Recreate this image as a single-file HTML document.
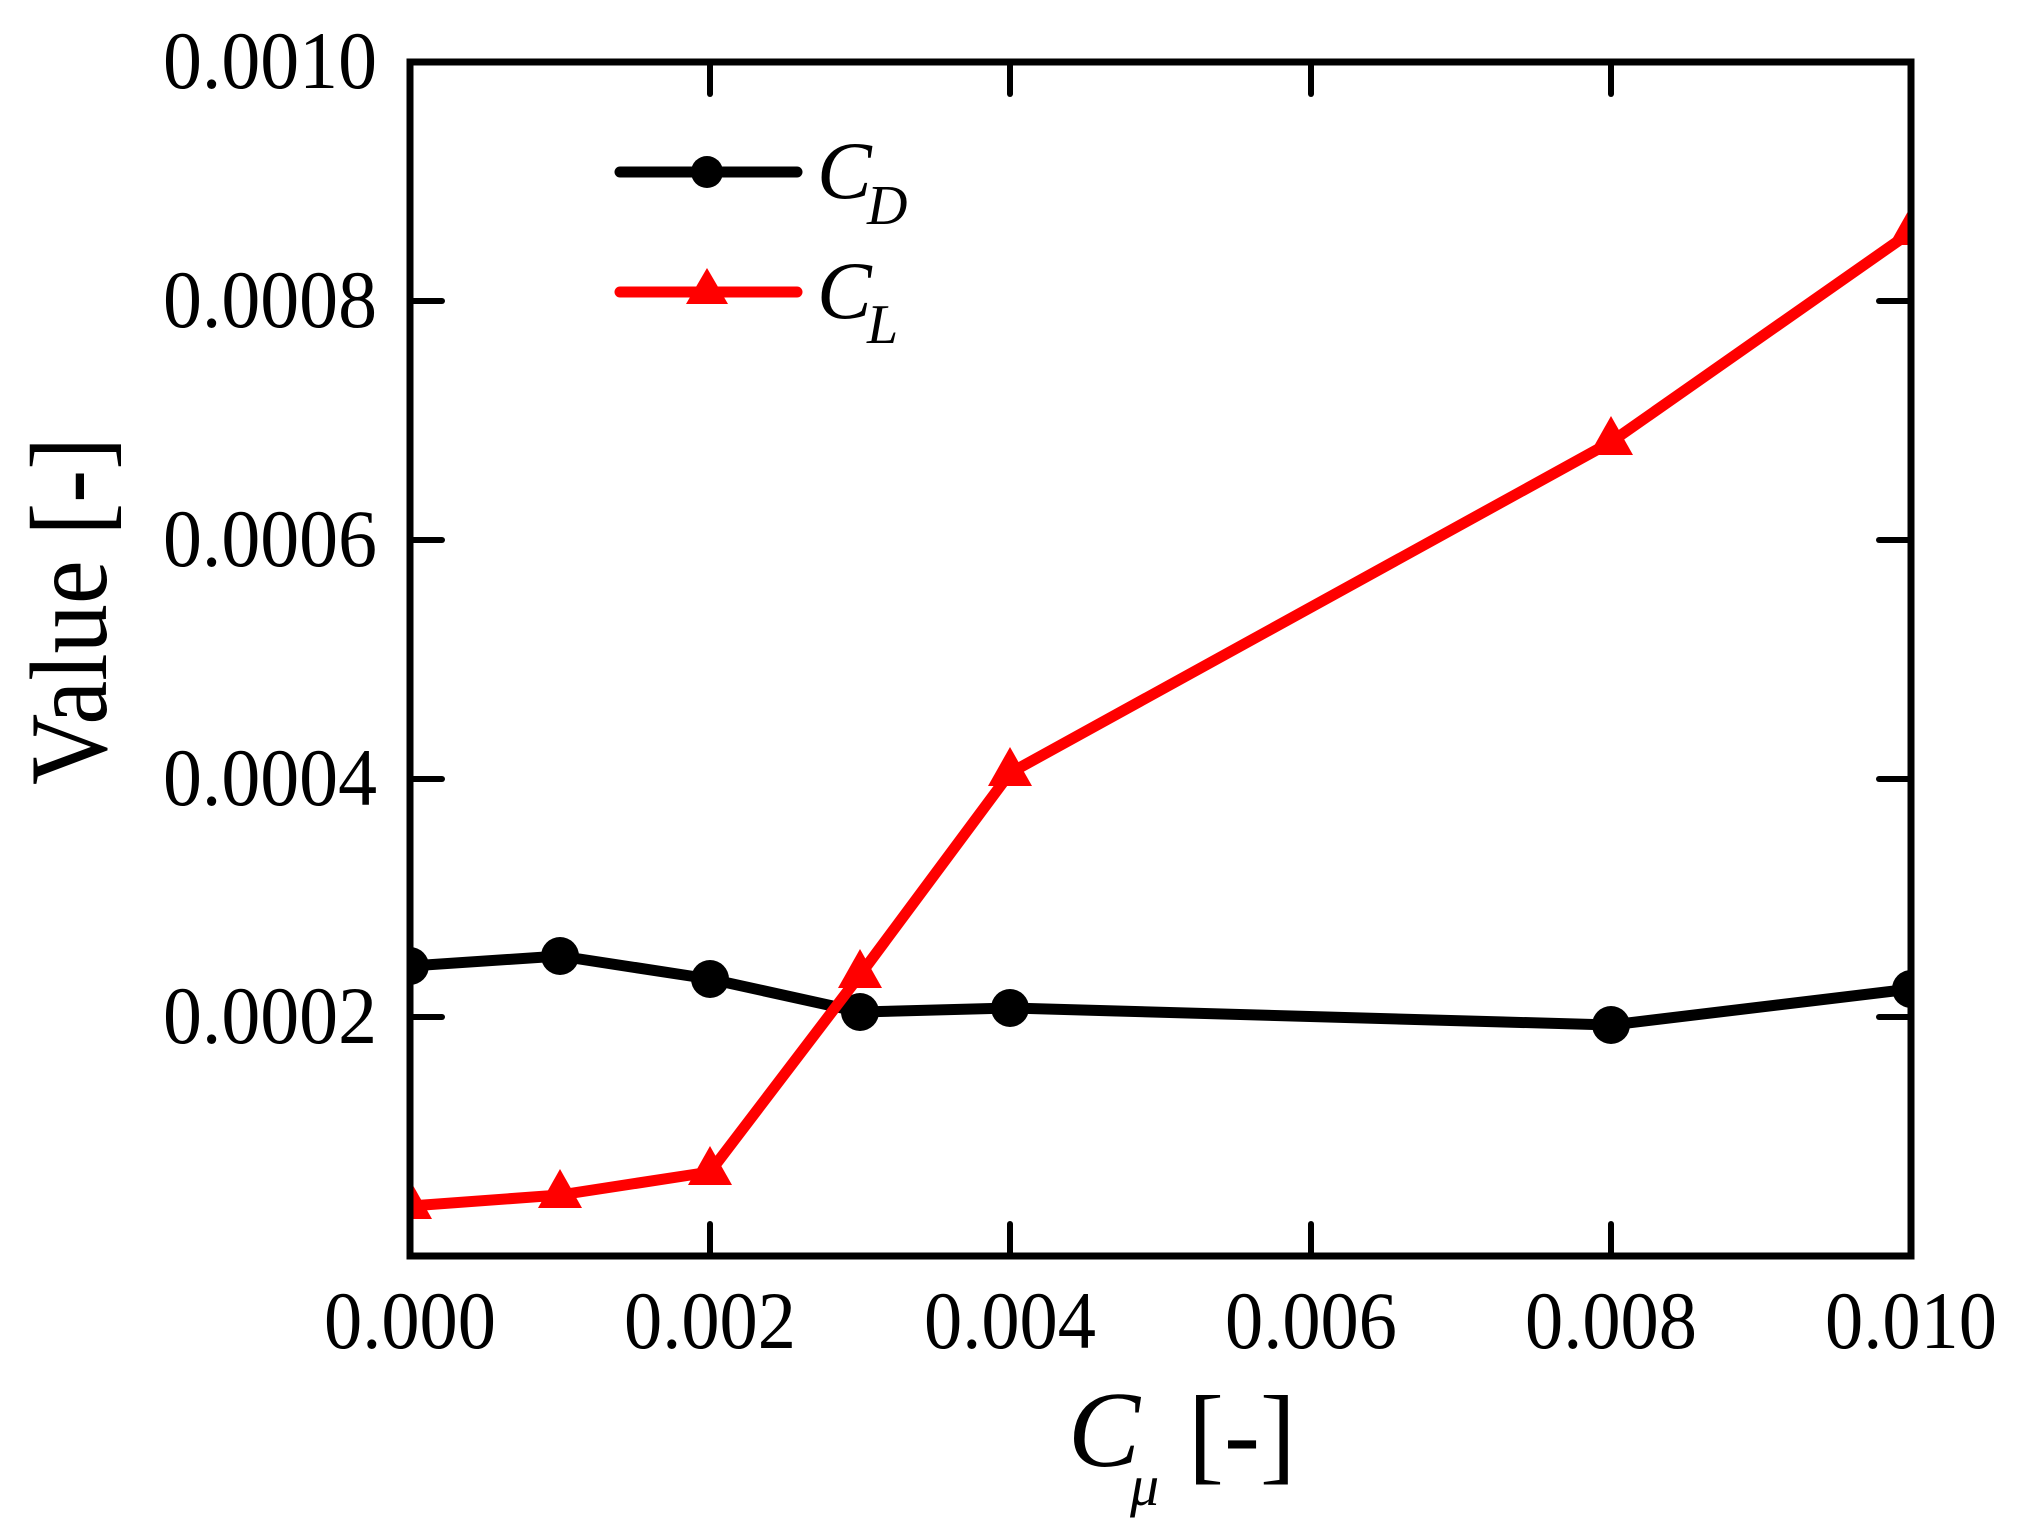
<!DOCTYPE html>
<html><head><meta charset="utf-8"><style>html,body{margin:0;padding:0;background:#fff}svg{display:block}</style></head>
<body>
<svg width="2017" height="1531" viewBox="0 0 2017 1531" xmlns="http://www.w3.org/2000/svg" style="font-family:'Liberation Serif',serif">
<defs><clipPath id="c"><rect x="410" y="62" width="1501" height="1194"/></clipPath></defs>
<g stroke="#000" stroke-width="6" stroke-linecap="round">
<line x1="710" y1="1256" x2="710" y2="1224"/><line x1="1010" y1="1256" x2="1010" y2="1224"/><line x1="1311" y1="1256" x2="1311" y2="1224"/><line x1="1611" y1="1256" x2="1611" y2="1224"/>
<line x1="710" y1="62" x2="710" y2="94"/><line x1="1010" y1="62" x2="1010" y2="94"/><line x1="1311" y1="62" x2="1311" y2="94"/><line x1="1611" y1="62" x2="1611" y2="94"/>
<line x1="410" y1="301" x2="442" y2="301"/><line x1="410" y1="540" x2="442" y2="540"/><line x1="410" y1="779" x2="442" y2="779"/><line x1="410" y1="1017" x2="442" y2="1017"/>
<line x1="1911" y1="301" x2="1879" y2="301"/><line x1="1911" y1="540" x2="1879" y2="540"/><line x1="1911" y1="779" x2="1879" y2="779"/><line x1="1911" y1="1017" x2="1879" y2="1017"/>
</g>
<g clip-path="url(#c)">
<polyline fill="none" stroke="#000" stroke-width="11" stroke-linejoin="round" points="410,966 560,956 710,979 860,1012 1010,1008 1611,1025 1911,989"/>
<g fill="#000"><circle cx="410" cy="966" r="19"/><circle cx="560" cy="956" r="19"/><circle cx="710" cy="979" r="19"/><circle cx="860" cy="1012" r="19"/><circle cx="1010" cy="1008" r="19"/><circle cx="1611" cy="1025" r="19"/><circle cx="1911" cy="989" r="19"/></g>
<polyline fill="none" stroke="#f00" stroke-width="11" stroke-linejoin="round" points="410,1206 560,1195 710,1172 860,975 1010,773 1611,442 1911,232"/>
<g fill="#f00">
<polygon points="410,1180 388,1219 432,1219"/><polygon points="560,1169 538,1208 582,1208"/><polygon points="710,1146 688,1185 732,1185"/><polygon points="860,949 838,988 882,988"/><polygon points="1010,747 988,786 1032,786"/><polygon points="1611,416 1589,455 1633,455"/><polygon points="1911,206 1889,245 1933,245"/>
</g>
</g>
<rect x="410" y="62" width="1501" height="1194" fill="none" stroke="#000" stroke-width="7"/>
<g font-size="82" fill="#000">
<text x="377" y="88" text-anchor="end" textLength="214" lengthAdjust="spacingAndGlyphs">0.0010</text>
<text x="377" y="327" text-anchor="end" textLength="214" lengthAdjust="spacingAndGlyphs">0.0008</text>
<text x="377" y="566" text-anchor="end" textLength="214" lengthAdjust="spacingAndGlyphs">0.0006</text>
<text x="377" y="805" text-anchor="end" textLength="214" lengthAdjust="spacingAndGlyphs">0.0004</text>
<text x="377" y="1043" text-anchor="end" textLength="214" lengthAdjust="spacingAndGlyphs">0.0002</text>
<text x="324" y="1348" textLength="172" lengthAdjust="spacingAndGlyphs">0.000</text>
<text x="624" y="1348" textLength="172" lengthAdjust="spacingAndGlyphs">0.002</text>
<text x="924" y="1348" textLength="172" lengthAdjust="spacingAndGlyphs">0.004</text>
<text x="1225" y="1348" textLength="172" lengthAdjust="spacingAndGlyphs">0.006</text>
<text x="1525" y="1348" textLength="172" lengthAdjust="spacingAndGlyphs">0.008</text>
<text x="1825" y="1348" textLength="172" lengthAdjust="spacingAndGlyphs">0.010</text>
</g>
<text transform="translate(106,611) rotate(-90)" text-anchor="middle" font-size="110" textLength="348" lengthAdjust="spacingAndGlyphs">Value [-]</text>
<text x="1068" y="1466" font-size="108" font-style="italic">C</text>
<text x="1130" y="1505" font-size="58" font-style="italic">μ</text>
<text x="1188" y="1470" font-size="108">[-]</text>
<line x1="620" y1="172" x2="797" y2="172" stroke="#000" stroke-width="11" stroke-linecap="round"/>
<circle cx="707" cy="172" r="16" fill="#000"/>
<line x1="620" y1="292" x2="797" y2="292" stroke="#f00" stroke-width="11" stroke-linecap="round"/>
<polygon points="707,268 686,304 728,304" fill="#f00"/>
<text x="817" y="198" font-size="82" font-style="italic">C</text>
<text x="867" y="224" font-size="56" font-style="italic">D</text>
<text x="817" y="318" font-size="82" font-style="italic">C</text>
<text x="867" y="343" font-size="56" font-style="italic">L</text>
</svg>
</body></html>
